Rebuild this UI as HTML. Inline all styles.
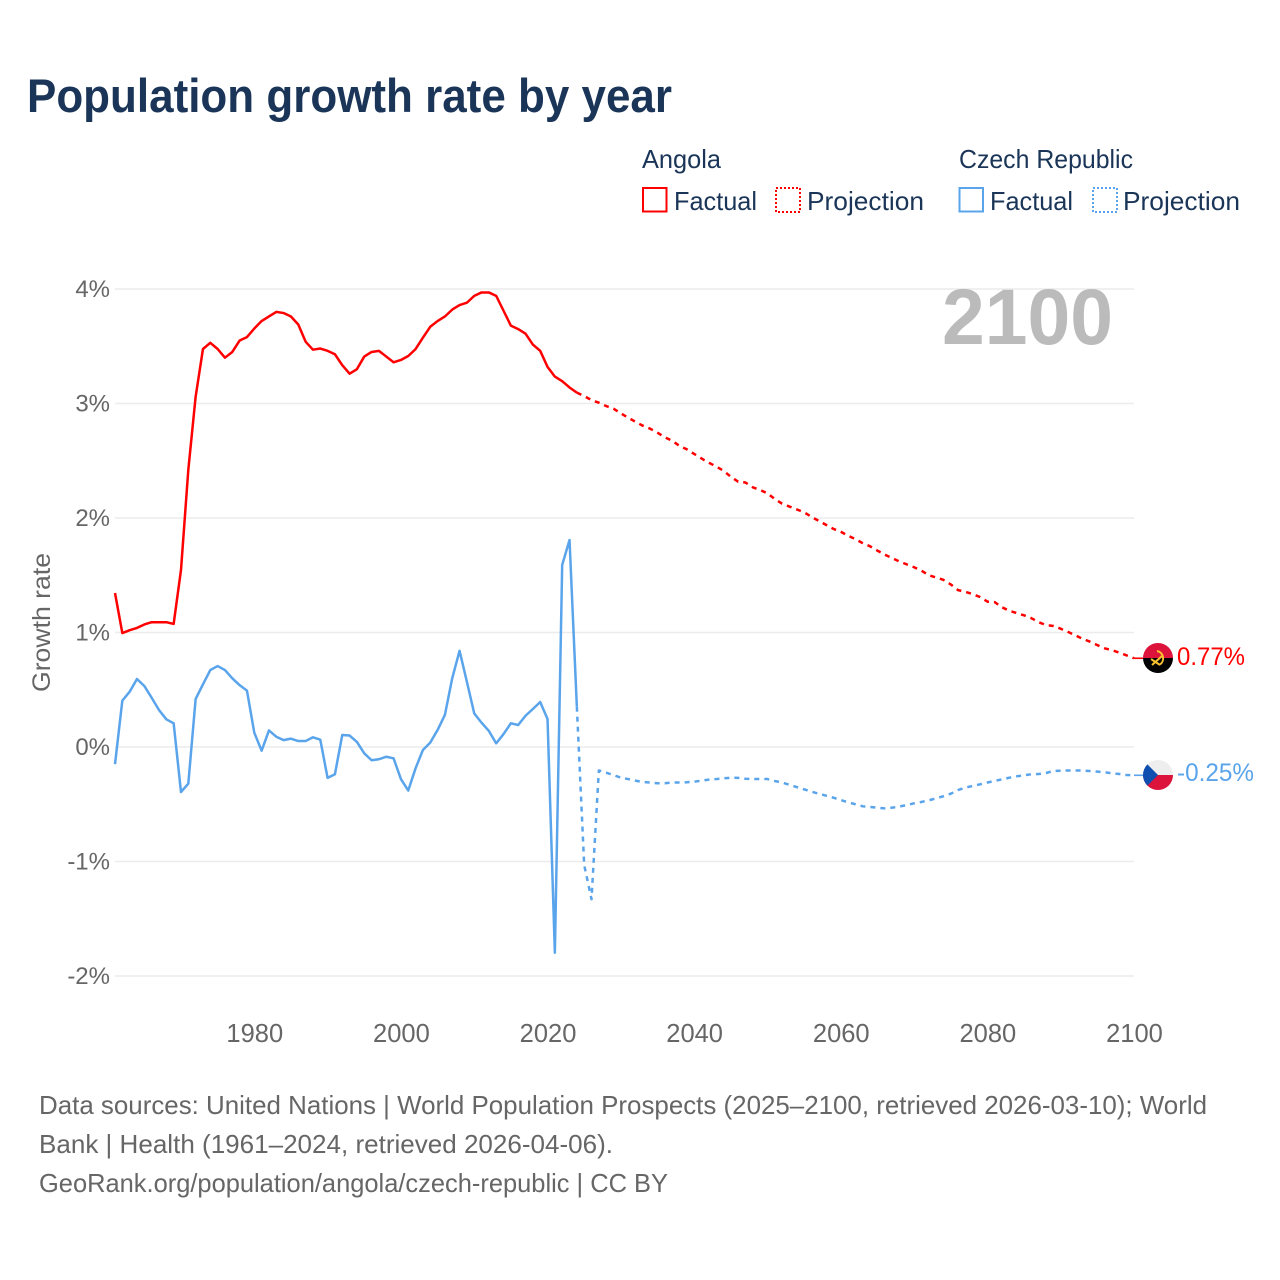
<!DOCTYPE html>
<html lang="en">
<head>
<meta charset="utf-8">
<title>Population growth rate by year</title>
<style>
html,body{margin:0;padding:0;background:#fff;width:1280px;height:1280px;overflow:hidden}
svg{display:block;font-family:"Liberation Sans","DejaVu Sans",sans-serif}
</style>
</head>
<body>
<svg id="chart" xmlns="http://www.w3.org/2000/svg" width="1280" height="1280" viewBox="0 0 1280 1280">
  <rect width="1280" height="1280" fill="#ffffff"/>
  <text x="27" y="112" font-size="47" font-weight="700" fill="#1a3557" textLength="645" lengthAdjust="spacingAndGlyphs">Population growth rate by year</text>

  <g font-size="26" fill="#1a3557">
    <text x="642" y="168" textLength="79" lengthAdjust="spacingAndGlyphs">Angola</text>
    <text x="959" y="168" textLength="174" lengthAdjust="spacingAndGlyphs">Czech Republic</text>
    <g>
      <rect x="643" y="188" width="23.5" height="23.5" fill="none" stroke="#ff0000" stroke-width="2"/>
      <text x="674" y="210" textLength="83" lengthAdjust="spacingAndGlyphs">Factual</text>
    </g>
    <g>
      <rect x="776" y="188" width="24" height="24" fill="none" stroke="#ff0000" stroke-width="2" stroke-dasharray="2 2"/>
      <text x="807" y="210" textLength="117" lengthAdjust="spacingAndGlyphs">Projection</text>
    </g>
    <g>
      <rect x="959.5" y="188" width="23.5" height="23.5" fill="none" stroke="#5aa4ec" stroke-width="2"/>
      <text x="990" y="210" textLength="83" lengthAdjust="spacingAndGlyphs">Factual</text>
    </g>
    <g>
      <rect x="1093" y="188" width="24" height="24" fill="none" stroke="#5aa4ec" stroke-width="2" stroke-dasharray="2 2"/>
      <text x="1123" y="210" textLength="117" lengthAdjust="spacingAndGlyphs">Projection</text>
    </g>
  </g>

  <g id="grid"></g>
  <g id="yTicks" font-size="24" fill="#666666" text-anchor="end"></g>
  <g id="xTicks" font-size="25.5" fill="#666666" text-anchor="middle"></g>
  <text transform="translate(50,692) rotate(-90)" font-size="25" fill="#666666" textLength="139" lengthAdjust="spacingAndGlyphs">Growth rate</text>
  <text x="942" y="344" font-size="79" font-weight="700" fill="#bbbbbb" textLength="171" lengthAdjust="spacingAndGlyphs">2100</text>

  <g id="lines"></g>

  <g>
    <clipPath id="clipAo"><circle cx="1158" cy="658" r="15"/></clipPath>
    <g clip-path="url(#clipAo)">
      <rect x="1143" y="643" width="30" height="15" fill="#dc143c"/>
      <rect x="1143" y="658" width="30" height="15" fill="#000000"/>
      <path d="M1157 651 a7.5 7.5 0 0 1 3 13.5" fill="none" stroke="#f9c22e" stroke-width="2"/>
      <path d="M1152 665 L1162 656 M1151 659 L1160 665" fill="none" stroke="#f9c22e" stroke-width="2"/>
    </g>
  </g>
  <g>
    <clipPath id="clipCz"><circle cx="1158" cy="775" r="15"/></clipPath>
    <g clip-path="url(#clipCz)">
      <rect x="1143" y="760" width="30" height="15" fill="#eeeeee"/>
      <rect x="1143" y="775" width="30" height="15" fill="#dc143c"/>
      <path d="M1143 760 L1158 775 L1143 790 Z" fill="#0f4fb0"/>
    </g>
  </g>
  <text x="1177" y="665" font-size="25" fill="#ff0000" textLength="68" lengthAdjust="spacingAndGlyphs">0.77%</text>
  <text x="1177" y="781" font-size="25" fill="#5aa4ec" textLength="77" lengthAdjust="spacingAndGlyphs">-0.25%</text>

  <g font-size="26" fill="#666666">
    <text x="39" y="1114" textLength="1168" lengthAdjust="spacingAndGlyphs">Data sources: United Nations | World Population Prospects (2025–2100, retrieved 2026-03-10); World</text>
    <text x="39" y="1153" textLength="574" lengthAdjust="spacingAndGlyphs">Bank | Health (1961–2024, retrieved 2026-04-06).</text>
    <text x="39" y="1192" textLength="629" lengthAdjust="spacingAndGlyphs">GeoRank.org/population/angola/czech-republic | CC BY</text>
  </g>
</svg>
<script>
var yTickValues = [4, 3, 2, 1, 0, -1, -2];
var xTickYears = [1980, 2000, 2020, 2040, 2060, 2080, 2100];
var factualStartYear = 1961;
var projectionStartYear = 2024;

var angolaFactual = [1.345,0.995,1.02,1.04,1.07,1.09,1.09,1.09,1.075,1.545,2.42,3.06,3.476,3.53,3.476,3.40,3.45,3.55,3.58,3.655,3.72,3.76,3.80,3.79,3.76,3.69,3.54,3.47,3.48,3.46,3.43,3.335,3.26,3.30,3.41,3.45,3.46,3.41,3.36,3.38,3.415,3.475,3.575,3.67,3.72,3.76,3.82,3.86,3.88,3.94,3.97,3.97,3.94,3.81,3.68,3.65,3.61,3.515,3.46,3.32,3.235,3.195,3.14,3.095];
var angolaProjection = [3.095,3.065,3.03,3.007,2.978,2.955,2.914,2.876,2.84,2.806,2.78,2.745,2.705,2.675,2.63,2.60,2.56,2.52,2.483,2.45,2.413,2.36,2.317,2.31,2.268,2.245,2.215,2.166,2.125,2.10,2.075,2.05,2.01,1.975,1.94,1.905,1.88,1.845,1.815,1.78,1.753,1.715,1.68,1.65,1.62,1.595,1.57,1.54,1.50,1.48,1.46,1.42,1.37,1.355,1.335,1.31,1.27,1.265,1.22,1.19,1.17,1.15,1.125,1.09,1.065,1.057,1.033,1.005,0.975,0.945,0.92,0.89,0.862,0.845,0.824,0.80,0.775];
var czechFactual = [-0.15,0.405,0.483,0.594,0.533,0.43,0.323,0.242,0.207,-0.393,-0.32,0.42,0.547,0.672,0.707,0.672,0.60,0.54,0.492,0.125,-0.032,0.145,0.09,0.06,0.073,0.052,0.052,0.085,0.064,-0.27,-0.238,0.105,0.10,0.044,-0.055,-0.116,-0.107,-0.085,-0.099,-0.28,-0.38,-0.186,-0.026,0.038,0.148,0.28,0.60,0.84,0.57,0.294,0.212,0.14,0.032,0.113,0.207,0.192,0.273,0.332,0.393,0.245,-1.797,1.59,1.808,0.352];
var czechProjection = [0.352,-1.03,-1.33,-0.205,-0.224,-0.245,-0.268,-0.28,-0.294,-0.306,-0.31,-0.317,-0.317,-0.31,-0.31,-0.308,-0.303,-0.294,-0.285,-0.28,-0.274,-0.268,-0.27,-0.277,-0.28,-0.28,-0.28,-0.297,-0.31,-0.33,-0.35,-0.37,-0.39,-0.408,-0.425,-0.443,-0.463,-0.483,-0.50,-0.518,-0.524,-0.53,-0.536,-0.53,-0.52,-0.507,-0.492,-0.48,-0.466,-0.448,-0.43,-0.408,-0.376,-0.355,-0.34,-0.326,-0.31,-0.297,-0.282,-0.268,-0.256,-0.247,-0.238,-0.236,-0.227,-0.21,-0.207,-0.205,-0.205,-0.205,-0.21,-0.215,-0.22,-0.23,-0.236,-0.245,-0.247];

var NS = 'http://www.w3.org/2000/svg';
var plotLeft = 115, plotRight = 1134, zeroY = 747, pxPerUnit = 114.5;
var minYear = 1961, maxYear = 2100;

function xScale(year) {
  return plotLeft + (year - minYear) * (plotRight - plotLeft) / (maxYear - minYear);
}
function yScale(value) {
  return zeroY - value * pxPerUnit;
}
function pointsFor(values, startYear) {
  return values.map(function (v, i) {
    return xScale(startYear + i).toFixed(2) + ',' + yScale(v).toFixed(2);
  }).join(' ');
}
function drawLine(name, values, startYear, color, dash) {
  var el = document.createElementNS(NS, 'polyline');
  
  
  el.setAttribute('points', pointsFor(values, startYear));
  el.setAttribute('fill', 'none');
  el.setAttribute('stroke', color);
  el.setAttribute('stroke-width', '2.5');
  el.setAttribute('stroke-linejoin', 'round');
  if (dash) el.setAttribute('stroke-dasharray', dash);
  document.getElementById('lines').appendChild(el);
}
function drawConnector(name, value, color) {
  var el = document.createElementNS(NS, 'line');
  
  
  el.setAttribute('x1', plotRight);
  el.setAttribute('x2', plotRight + 9);
  el.setAttribute('y1', yScale(value));
  el.setAttribute('y2', yScale(value));
  el.setAttribute('stroke', color);
  el.setAttribute('stroke-width', '1.6');
  document.getElementById('lines').appendChild(el);
}

yTickValues.forEach(function (v) {
  var line = document.createElementNS(NS, 'line');
  
  
  line.setAttribute('x1', plotLeft);
  line.setAttribute('x2', plotRight);
  line.setAttribute('y1', yScale(v));
  line.setAttribute('y2', yScale(v));
  line.setAttribute('stroke', '#ececec');
  line.setAttribute('stroke-width', '1.6');
  document.getElementById('grid').appendChild(line);

  var label = document.createElementNS(NS, 'text');
  
  
  label.setAttribute('x', 110);
  label.setAttribute('y', yScale(v) + 8);
  label.textContent = v + '%';
  document.getElementById('yTicks').appendChild(label);
});

xTickYears.forEach(function (yr) {
  var label = document.createElementNS(NS, 'text');
  
  
  label.setAttribute('x', xScale(yr) + 0.5);
  label.setAttribute('y', 1042);
  label.textContent = yr;
  document.getElementById('xTicks').appendChild(label);
});

drawLine('line-angola-factual', angolaFactual, factualStartYear, '#ff0000');
drawLine('line-angola-projection', angolaProjection, projectionStartYear, '#ff0000', '5 5');
drawLine('line-czech-factual', czechFactual, factualStartYear, '#5aa4ec');
drawLine('line-czech-projection', czechProjection, projectionStartYear, '#5aa4ec', '5 5');
drawConnector('connector-angola', angolaProjection[angolaProjection.length - 1], '#ff0000');
drawConnector('connector-czech-republic', czechProjection[czechProjection.length - 1], '#5aa4ec');
</script>
</body>
</html>
